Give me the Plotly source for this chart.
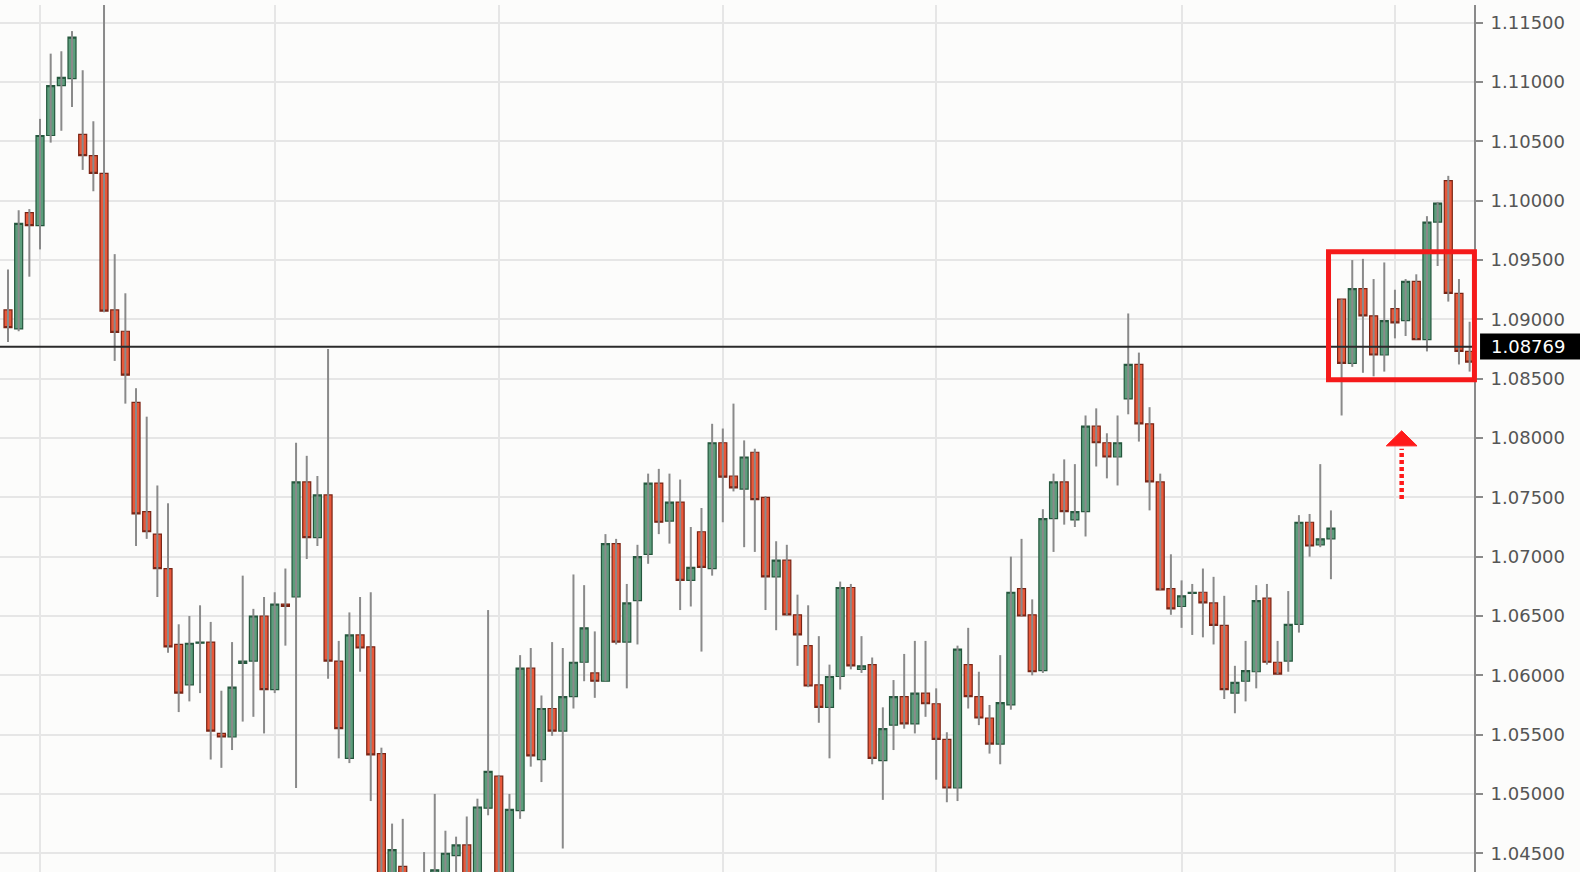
import plotly.graph_objects as go

# ---- data (EURUSD-like daily candles) ----
opens = [1.0908, 1.0892, 1.0990, 1.0979, 1.1055, 1.1097, 1.1103, 1.1056, 1.1038, 1.1023,
         1.0908, 1.0890, 1.0830, 1.0738, 1.0719, 1.0690, 1.0626, 1.0592, 1.0627, 1.0628,
         1.0551, 1.0548, 1.0610, 1.0612, 1.0650, 1.0588, 1.0660, 1.0666, 1.0763, 1.0716,
         1.0752, 1.0612, 1.0530, 1.0634, 1.0624, 1.0534, 1.0420, 1.0439, 1.0428, 1.0430,
         1.0420, 1.0425, 1.0448, 1.0457, 1.0425, 1.0488, 1.0515, 1.0425, 1.0486, 1.0606,
         1.0529, 1.0572, 1.0553, 1.0582, 1.0611, 1.0602, 1.0595, 1.0711, 1.0628, 1.0663,
         1.0702, 1.0762, 1.0730, 1.0746, 1.0680, 1.0721, 1.0690, 1.0796, 1.0768, 1.0757,
         1.0788, 1.0750, 1.0683, 1.0697, 1.0651, 1.0625, 1.0592, 1.0573, 1.0599, 1.0674,
         1.0605, 1.0609, 1.0528, 1.0558, 1.0582, 1.0559, 1.0585, 1.0576, 1.0546, 1.0505,
         1.0609, 1.0582, 1.0564, 1.0542, 1.0575, 1.0673, 1.0651, 1.0604, 1.0732, 1.0763,
         1.0731, 1.0738, 1.0810, 1.0796, 1.0784, 1.0833, 1.0862, 1.0812, 1.0763, 1.0673,
         1.0658, 1.0669, 1.0670, 1.0661, 1.0642, 1.0585, 1.0595, 1.0603, 1.0665, 1.0611,
         1.0612, 1.0643, 1.0729, 1.0710, 1.0715, 1.0917, 1.0863, 1.0926, 1.0903, 1.0870,
         1.0909, 1.0899, 1.0932, 1.0883, 1.0982, 1.1017, 1.0922, 1.0873]

highs = [1.0942, 1.0992, 1.0993, 1.1069, 1.1124, 1.1126, 1.1143, 1.1110, 1.1067, 1.1180,
         1.0955, 1.0922, 1.0842, 1.0818, 1.0760, 1.0745, 1.0643, 1.0650, 1.0659, 1.0645,
         1.0587, 1.0628, 1.0684, 1.0656, 1.0666, 1.0670, 1.0690, 1.0796, 1.0785, 1.0768,
         1.0875, 1.0629, 1.0653, 1.0666, 1.0670, 1.0539, 1.0475, 1.0479, 1.0433, 1.0451,
         1.0500, 1.0469, 1.0464, 1.0481, 1.0496, 1.0655, 1.0516, 1.0500, 1.0617, 1.0623,
         1.0583, 1.0628, 1.0623, 1.0685, 1.0676, 1.0637, 1.0719, 1.0715, 1.0677, 1.0710,
         1.0770, 1.0774, 1.0770, 1.0765, 1.0725, 1.0741, 1.0812, 1.0808, 1.0829, 1.0798,
         1.0791, 1.0751, 1.0713, 1.0710, 1.0668, 1.0659, 1.0633, 1.0609, 1.0679, 1.0677,
         1.0633, 1.0615, 1.0573, 1.0596, 1.0618, 1.0629, 1.0629, 1.0589, 1.0552, 1.0625,
         1.0640, 1.0603, 1.0575, 1.0617, 1.0700, 1.0715, 1.0664, 1.0740, 1.0770, 1.0782,
         1.0778, 1.0819, 1.0825, 1.0804, 1.0819, 1.0905, 1.0872, 1.0826, 1.0770, 1.0702,
         1.0680, 1.0677, 1.0690, 1.0683, 1.0667, 1.0608, 1.0629, 1.0676, 1.0677, 1.0629,
         1.0671, 1.0735, 1.0736, 1.0778, 1.0739, 1.0917, 1.0950, 1.0951, 1.0934, 1.0948,
         1.0925, 1.0934, 1.0938, 1.0987, 1.0999, 1.1021, 1.0934, 1.0898]

lows = [1.0881, 1.0890, 1.0936, 1.0959, 1.1049, 1.1059, 1.1079, 1.1026, 1.1008, 1.0906,
        1.0865, 1.0829, 1.0709, 1.0715, 1.0666, 1.0619, 1.0569, 1.0578, 1.0585, 1.0529,
        1.0522, 1.0537, 1.0561, 1.0565, 1.0551, 1.0585, 1.0625, 1.0505, 1.0698, 1.0709,
        1.0597, 1.0530, 1.0526, 1.0603, 1.0494, 1.0400, 1.0405, 1.0400, 1.0398, 1.0405,
        1.0410, 1.0415, 1.0425, 1.0415, 1.0420, 1.0482, 1.0410, 1.0418, 1.0479, 1.0523,
        1.0510, 1.0549, 1.0454, 1.0572, 1.0595, 1.0581, 1.0595, 1.0626, 1.0589, 1.0626,
        1.0694, 1.0719, 1.0711, 1.0655, 1.0658, 1.0620, 1.0684, 1.0729, 1.0755, 1.0708,
        1.0704, 1.0655, 1.0638, 1.0650, 1.0608, 1.0590, 1.0560, 1.0530, 1.0588, 1.0605,
        1.0602, 1.0525, 1.0495, 1.0537, 1.0555, 1.0551, 1.0565, 1.0512, 1.0493, 1.0494,
        1.0572, 1.0558, 1.0534, 1.0525, 1.0571, 1.0650, 1.0600, 1.0602, 1.0704, 1.0727,
        1.0725, 1.0717, 1.0776, 1.0766, 1.0760, 1.0820, 1.0797, 1.0739, 1.0672, 1.0651,
        1.0640, 1.0634, 1.0632, 1.0626, 1.0580, 1.0568, 1.0578, 1.0589, 1.0609, 1.0601,
        1.0603, 1.0636, 1.0700, 1.0708, 1.0681, 1.0819, 1.0860, 1.0855, 1.0852, 1.0856,
        1.0884, 1.0886, 1.0883, 1.0873, 1.0945, 1.0915, 1.0862, 1.0856]

closes = [1.0893, 1.0981, 1.0979, 1.1055, 1.1097, 1.1104, 1.1138, 1.1038, 1.1023, 1.0907,
          1.0889, 1.0853, 1.0736, 1.0721, 1.0690, 1.0624, 1.0585, 1.0627, 1.0628, 1.0553,
          1.0548, 1.0590, 1.0612, 1.0650, 1.0588, 1.0660, 1.0658, 1.0763, 1.0716, 1.0752,
          1.0612, 1.0555, 1.0634, 1.0623, 1.0533, 1.0415, 1.0453, 1.0418, 1.0412, 1.0415,
          1.0436, 1.0450, 1.0457, 1.0425, 1.0489, 1.0519, 1.0420, 1.0487, 1.0606, 1.0532,
          1.0572, 1.0553, 1.0582, 1.0611, 1.0640, 1.0595, 1.0711, 1.0628, 1.0661, 1.0700,
          1.0762, 1.0729, 1.0746, 1.0680, 1.0691, 1.0691, 1.0796, 1.0767, 1.0758, 1.0784,
          1.0748, 1.0683, 1.0697, 1.0651, 1.0634, 1.0591, 1.0573, 1.0599, 1.0674, 1.0608,
          1.0608, 1.0530, 1.0555, 1.0582, 1.0559, 1.0585, 1.0576, 1.0546, 1.0505, 1.0622,
          1.0582, 1.0564, 1.0542, 1.0577, 1.0670, 1.0650, 1.0603, 1.0732, 1.0763, 1.0738,
          1.0738, 1.0810, 1.0796, 1.0784, 1.0796, 1.0862, 1.0812, 1.0763, 1.0672, 1.0656,
          1.0667, 1.0670, 1.0661, 1.0642, 1.0588, 1.0594, 1.0604, 1.0663, 1.0611, 1.0601,
          1.0643, 1.0729, 1.0709, 1.0715, 1.0724, 1.0863, 1.0926, 1.0903, 1.0870, 1.0899,
          1.0897, 1.0932, 1.0883, 1.0982, 1.0998, 1.0922, 1.0873, 1.0864]

tick_values = [1.045, 1.050, 1.055, 1.060, 1.065, 1.070, 1.075, 1.080,
               1.085, 1.090, 1.095, 1.100, 1.105, 1.110, 1.115]
tick_labels = ["1.04500", "1.05000", "1.05500", "1.06000", "1.06500", "1.07000",
               "1.07500", "1.08000", "1.08500", "1.09000", "1.09500", "1.10000",
               "1.10500", "1.11000", "1.11500"]
time_grid = [3, 25, 46, 67, 87, 110, 130]   # vertical time grid lines (bar index)
last_price = 1.08769
last_label = "1.08769"

# ---- build ----
x = list(range(len(opens)))

wick_x, wick_y = [], []
for i, h, l in zip(x, highs, lows):
    wick_x += [i, i, None]
    wick_y += [l, h, None]

body_hi = [max(o, c) for o, c in zip(opens, closes)]
body_lo = [min(o, c) for o, c in zip(opens, closes)]

GREEN_FILL = "#5c9e7c"
GREEN_LINE = "#24573d"
RED_FILL = "#e8583a"
RED_LINE = "#7a2414"
GRID = "#e6e6e6"
BG = "#fcfcfb"
FONT = "DejaVu Sans"

fig = go.Figure()
fig.add_trace(go.Scatter(x=wick_x, y=wick_y, mode="lines",
                         line=dict(color="#8a8a8a", width=2),
                         hoverinfo="skip", showlegend=False))
fig.add_trace(go.Candlestick(
    x=x, open=opens, high=body_hi, low=body_lo, close=closes,
    increasing=dict(fillcolor=GREEN_FILL, line=dict(color=GREEN_LINE, width=1.2)),
    decreasing=dict(fillcolor=RED_FILL, line=dict(color=RED_LINE, width=1.2)),
    whiskerwidth=0, showlegend=False, hoverinfo="skip"))

# horizontal price line
fig.add_shape(type="line", xref="paper", yref="y", x0=0, x1=1,
              y0=last_price, y1=last_price, line=dict(color="#2b2b2b", width=2))

# red consolidation box
fig.add_shape(type="rect", xref="paper", yref="y", x0=0.9013, x1=1.0003,
              y0=1.08492, y1=1.09570, line=dict(color="#f51a1a", width=5),
              fillcolor="rgba(0,0,0,0)", layer="above")

# dotted arrow
fig.add_shape(type="line", xref="x", yref="y", x0=130.63, x1=130.63,
              y0=1.07485, y1=1.07910, line=dict(color="#ff1a1a", width=4.5, dash="4px,3px"))
fig.add_shape(type="path", xref="x", yref="y",
              path="M 129.19,1.07934 L 130.63,1.08061 L 132.07,1.07934 Z",
              fillcolor="#ff1a1a", line=dict(color="#ff1a1a", width=1))

# last price label
fig.add_shape(type="rect", xref="paper", yref="y", x0=1.0041, x1=1.08,
              y0=1.08662, y1=1.08881, fillcolor="#000000", line=dict(width=0),
              layer="above")
fig.add_annotation(xref="paper", yref="y", x=1.0105, y=last_price, xanchor="left",
                   yanchor="middle", text=last_label, showarrow=False,
                   font=dict(family=FONT, size=18, color="#ffffff"))

fig.update_layout(
    width=1580, height=872,
    margin=dict(l=0, r=106, t=5, b=0),
    paper_bgcolor=BG, plot_bgcolor=BG,
    boxgap=0.25, boxgroupgap=0, boxmode="overlay",
    showlegend=False,
    xaxis=dict(range=[-0.75, 137.41], tickvals=time_grid, showticklabels=False,
               ticks="", showgrid=True, gridcolor=GRID, gridwidth=2,
               zeroline=False, showline=False, rangeslider=dict(visible=False)),
    yaxis=dict(side="right", range=[1.04342, 1.11650], tickvals=tick_values,
               ticktext=tick_labels, showgrid=True, gridcolor=GRID, gridwidth=2,
               zeroline=False, showline=True, linecolor="#8a8a8a", linewidth=2,
               ticks="outside", ticklen=7, tickwidth=2, tickcolor="#8a8a8a",
               ticklabelstandoff=4,
               tickfont=dict(family=FONT, size=18, color="#555555")),
)

fig.write_html("out.html",
               config={"displayModeBar": False},
               post_script="document.body.style.margin='0';document.body.style.overflow='hidden';")
